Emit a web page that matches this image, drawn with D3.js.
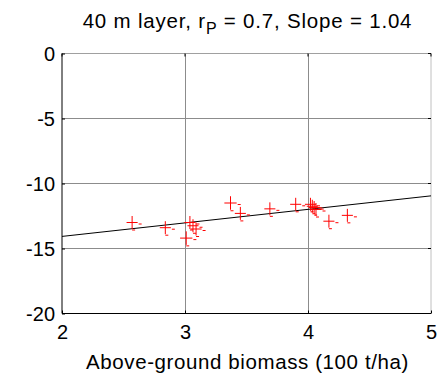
<!DOCTYPE html>
<html>
<head>
<meta charset="utf-8">
<script src="https://cdn.jsdelivr.net/npm/d3@7"></script>
<style>
  body { margin: 0; background: #fff; }
  text { font-family: "Liberation Sans", Arial, sans-serif; fill: #000; }
</style>
</head>
<body>
<script>
var biomass     = [2.57, 2.84, 3.01, 3.04, 3.065, 3.09, 3.37, 3.45, 3.69, 3.90, 4.02, 4.035, 4.05, 4.065, 4.17, 4.32];
var backscatter = [-13.0, -13.4, -14.2, -13.0, -13.25, -13.5, -11.5, -12.3, -11.95, -11.6, -11.6, -11.75, -11.85, -12.0, -12.9, -12.45];
var biomassErr  = [0.045, 0.045, 0.05, 0.045, 0.045, 0.045, 0.05, 0.045, 0.045, 0.045, 0.045, 0.045, 0.045, 0.045, 0.045, 0.045];
var backErr     = [0.5, 0.5, 0.52, 0.5, 0.5, 0.5, 0.52, 0.5, 0.5, 0.5, 0.5, 0.5, 0.5, 0.5, 0.5, 0.5];
var fitX = [2, 5];
var fitY = [-14.07, -10.95];
var xTicks = [2, 3, 4, 5];
var yTicks = [0, -5, -10, -15, -20];

var margin = {top: 53.5, right: 17, bottom: 60.5, left: 62},
    width = 448 - margin.left - margin.right,
    height = 374 - margin.top - margin.bottom;

var x = d3.scaleLinear().domain([2, 5]).range([0, width]);
var y = d3.scaleLinear().domain([-20, 0]).range([height, 0]);

var svg = d3.select("body").append("svg")
    .attr("width", 448)
    .attr("height", 374);

// title with subscript
var title = svg.append("text")
    .attr("x", margin.left + width / 2 + 1)
    .attr("y", 28)
    .attr("text-anchor", "middle")
    .style("font-size", "20.5px")
    .style("letter-spacing", "0.8px");
title.append("tspan").text("40 m layer, r");
title.append("tspan").attr("dy", 6).style("font-size", "16px").text("P");
title.append("tspan").attr("dy", -6).text(" = 0.7, Slope = 1.04");

var g = svg.append("g")
    .attr("transform", "translate(" + margin.left + "," + margin.top + ")");

// grid
g.selectAll(".gx").data(xTicks.slice(1, -1)).enter().append("line")
    .attr("x1", d => Math.round(x(d)) + 0.5).attr("x2", d => Math.round(x(d)) + 0.5)
    .attr("y1", 0).attr("y2", height)
    .attr("stroke", "#8c8c8c").attr("stroke-width", 1);
g.selectAll(".gy").data(yTicks.slice(1, -1)).enter().append("line")
    .attr("y1", d => Math.round(y(d))).attr("y2", d => Math.round(y(d)))
    .attr("x1", 0).attr("x2", width)
    .attr("stroke", "#8c8c8c").attr("stroke-width", 1);

// top/right box edges (light)
g.append("line").attr("x1", 0).attr("x2", width).attr("y1", 0).attr("y2", 0)
    .attr("stroke", "#a0a0a0");
g.append("line").attr("x1", width).attr("x2", width).attr("y1", 0).attr("y2", height)
    .attr("stroke", "#c0c0c0");

// fit line
g.append("path")
    .datum(fitX.map((d, i) => [d, fitY[i]]))
    .attr("fill", "none")
    .attr("stroke", "#000")
    .attr("stroke-width", 1)
    .attr("d", d3.line().x(d => x(d[0])).y(d => y(d[1])));

// error crosses
var pts = biomass.map((d, i) => ({bx: d, by: backscatter[i], ex: biomassErr[i], ey: backErr[i]}));
var cross = g.selectAll(".pt").data(pts).enter().append("g")
    .attr("stroke", "#ff0000").attr("stroke-width", 1).attr("fill", "none");
cross.append("line")
    .attr("x1", d => x(d.bx - d.ex)).attr("x2", d => x(d.bx + d.ex))
    .attr("y1", d => y(d.by)).attr("y2", d => y(d.by));
cross.append("line")
    .attr("x1", d => x(d.bx)).attr("x2", d => x(d.bx))
    .attr("y1", d => y(d.by + d.ey)).attr("y2", d => y(d.by - d.ey));
cross.append("line")
    .attr("x1", d => x(d.bx + d.ex) + 1).attr("x2", d => x(d.bx + d.ex) + 4)
    .attr("y1", d => y(d.by) + 1.5).attr("y2", d => y(d.by) + 1.5);
cross.append("line")
    .attr("x1", d => x(d.bx)).attr("x2", d => x(d.bx) + 3)
    .attr("y1", d => y(d.by - d.ey) + 1).attr("y2", d => y(d.by - d.ey) + 1);

// axes
var xAxis = d3.axisBottom(x).tickValues(xTicks).tickSize(-3).tickPadding(11).tickFormat(d => String(d));
var yAxis = d3.axisLeft(y).tickValues(yTicks).tickSize(-3).tickPadding(7).tickFormat(d => String(d));

var xg = g.append("g").attr("transform", "translate(0," + height + ")").call(xAxis);
var yg = g.append("g").call(yAxis);
[xg, yg].forEach(function(a) {
  a.select(".domain").attr("stroke", "#000").attr("d", a === xg ? "M0,0H" + width : "M0,0V" + height);
  a.selectAll(".tick line").attr("stroke", "#000");
  a.selectAll("text").style("font-size", "20px").attr("font-family", null);
});
xg.selectAll("text").attr("dy", "0.71em");
yg.selectAll("text").attr("dy", "0.36em");

// ticks on top and right
g.selectAll(".tt").data(xTicks).enter().append("line")
    .attr("x1", d => x(d)).attr("x2", d => x(d))
    .attr("y1", 0).attr("y2", 3).attr("stroke", "#000");
g.selectAll(".tr").data(yTicks).enter().append("line")
    .attr("x1", width - 3).attr("x2", width)
    .attr("y1", d => y(d)).attr("y2", d => y(d)).attr("stroke", "#000");

// x label
svg.append("text")
    .attr("x", margin.left + width / 2 + 1)
    .attr("y", 369)
    .attr("text-anchor", "middle")
    .style("font-size", "20.5px")
    .style("letter-spacing", "0.6px")
    .text("Above-ground biomass (100 t/ha)");
</script>
</body>
</html>
